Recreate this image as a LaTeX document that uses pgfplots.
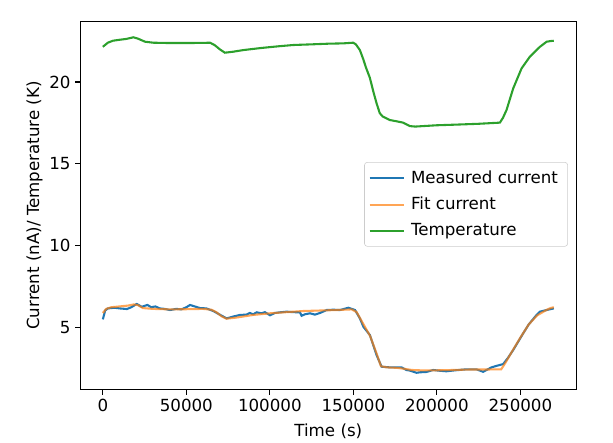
\documentclass[border=0pt]{standalone}
\usepackage{fontspec}
\setmainfont{DejaVu Sans}
\usepackage{pgfplots}
\pgfplotsset{compat=1.18}
\usetikzlibrary{calc}
\definecolor{c0}{HTML}{1F77B4}
\definecolor{c1}{HTML}{FF7F0E}
\definecolor{c2}{HTML}{2CA02C}
\begin{document}
\begin{tikzpicture}
\begin{axis}[
  name=ax,
  scale only axis,
  width=357.1pt, height=265.2pt,
  xmin=-13500, xmax=283500,
  ymin=1.22, ymax=23.71,
  xtick={0,50000,100000,150000,200000,250000},
  xticklabels={0,50000,100000,150000,200000,250000},
  ytick={5,10,15,20},
  scaled ticks=false,
  tick align=outside, tick pos=left,
  major tick length=3.5pt,
  every tick/.style={black, line width=0.8pt},
  axis line style={line width=0.8pt},
  /pgf/number format/assume math mode=true,
  tick label style={font=\fontsize{12}{14}\selectfont},
  label style={font=\fontsize{12}{14}\selectfont},
  xlabel={Time (s)},
  ylabel={Current (nA)/ Temperature (K)},
  xlabel style={yshift=-2pt},
  ylabel style={yshift=-2pt},
  legend style={at={(0.983,0.503)}, anchor=east, draw=black!20, rounded corners=2pt, fill=white,
    font=\fontsize{12}{14}\selectfont, row sep=4.5pt, inner xsep=3pt, inner ysep=4pt,
    nodes={inner xsep=4pt}},
  legend cell align=left,
  legend image code/.code={\draw[#1] (0pt,0pt) -- (25pt,0pt);},
]
\addplot[c0, line width=1.5pt] coordinates {
(0,5.51) (1400,6.05) (3000,6.18) (7000,6.22) (10000,6.18) (14400,6.14) (17000,6.25) (20300,6.45) (23300,6.28) (26700,6.39) (29000,6.25) (31500,6.30) (34000,6.18) (37000,6.15) (40200,6.08) (44000,6.15) (47000,6.12) (50000,6.25) (52200,6.39) (55000,6.30) (58200,6.20) (62000,6.18) (66100,6.02) (70000,5.80) (74100,5.57) (78000,5.68) (82100,5.78) (86000,5.80) (88000,5.90) (90000,5.82) (92100,5.94) (95000,5.88) (97000,5.95) (100100,5.76) (103000,5.90) (106100,5.94) (110000,5.98) (114000,5.95) (118000,5.94) (119000,5.73) (121000,5.82) (124000,5.88) (127000,5.80) (130000,5.90) (134000,6.08) (138000,6.10) (142000,6.08) (147000,6.22) (151000,6.08) (153900,5.57) (156000,5.06) (159900,4.55) (163900,3.33) (166900,2.62) (171800,2.58) (178800,2.58) (181800,2.42) (184000,2.38) (187800,2.25) (190000,2.28) (193800,2.30) (197800,2.42) (201000,2.38) (205700,2.34) (211000,2.40) (217700,2.46) (223700,2.46) (227700,2.31) (232700,2.58) (236000,2.68) (239700,2.78) (242500,3.15) (245700,3.64) (251700,4.66) (255000,5.20) (259700,5.78) (261700,5.98) (265700,6.08) (270000,6.18)
};
\addlegendentry{Measured current}
\addplot[c1, opacity=0.7, line width=1.5pt] coordinates {
(0,5.90) (2000,6.15) (5000,6.25) (10000,6.30) (15000,6.35) (18500,6.42) (21000,6.38) (24000,6.20) (30000,6.15) (40000,6.12) (50000,6.13) (60000,6.15) (65000,6.10) (68000,5.95) (71000,5.70) (74000,5.55) (80000,5.62) (90000,5.78) (100000,5.88) (110000,5.95) (120000,6.02) (130000,6.05) (140000,6.08) (149000,6.12) (152000,5.95) (155000,5.40) (160000,4.50) (164000,3.40) (166500,2.65) (170000,2.58) (176000,2.55) (180000,2.50) (185000,2.42) (190000,2.40) (200000,2.40) (210000,2.42) (220000,2.45) (230000,2.45) (238500,2.46) (241000,2.85) (245000,3.55) (250000,4.40) (255000,5.20) (260000,5.75) (265000,6.05) (268000,6.20) (270000,6.25)
};
\addlegendentry{Fit current}
\addplot[c2, line width=1.5pt] coordinates {
(0,22.15) (3000,22.40) (6000,22.52) (10000,22.58) (14000,22.63) (18300,22.73) (21000,22.65) (25300,22.46) (30300,22.40) (40000,22.38) (50000,22.38) (60000,22.39) (64200,22.40) (67000,22.25) (70000,22.00) (73100,21.79) (78000,21.85) (84100,21.95) (95000,22.08) (105000,22.18) (114000,22.26) (125000,22.30) (135000,22.34) (143900,22.36) (149900,22.40) (151500,22.30) (153900,21.95) (155900,21.40) (157500,20.90) (159900,20.25) (162000,19.40) (163900,18.70) (165800,18.10) (167500,17.90) (171800,17.68) (176000,17.60) (179800,17.52) (183800,17.31) (187000,17.28) (191800,17.31) (200000,17.36) (211700,17.40) (225000,17.45) (237700,17.52) (239500,17.80) (241700,18.29) (245700,19.61) (250700,20.83) (255700,21.55) (261700,22.15) (265700,22.46) (268000,22.50) (270000,22.52)
};
\addlegendentry{Temperature}
\end{axis}
\pgfresetboundingbox
\path[use as bounding box] ($(ax.south west)+(-57.8pt,-38.4pt)$) rectangle ($(ax.north east)+(26.4pt,15.3pt)$);
\end{tikzpicture}
\end{document}
